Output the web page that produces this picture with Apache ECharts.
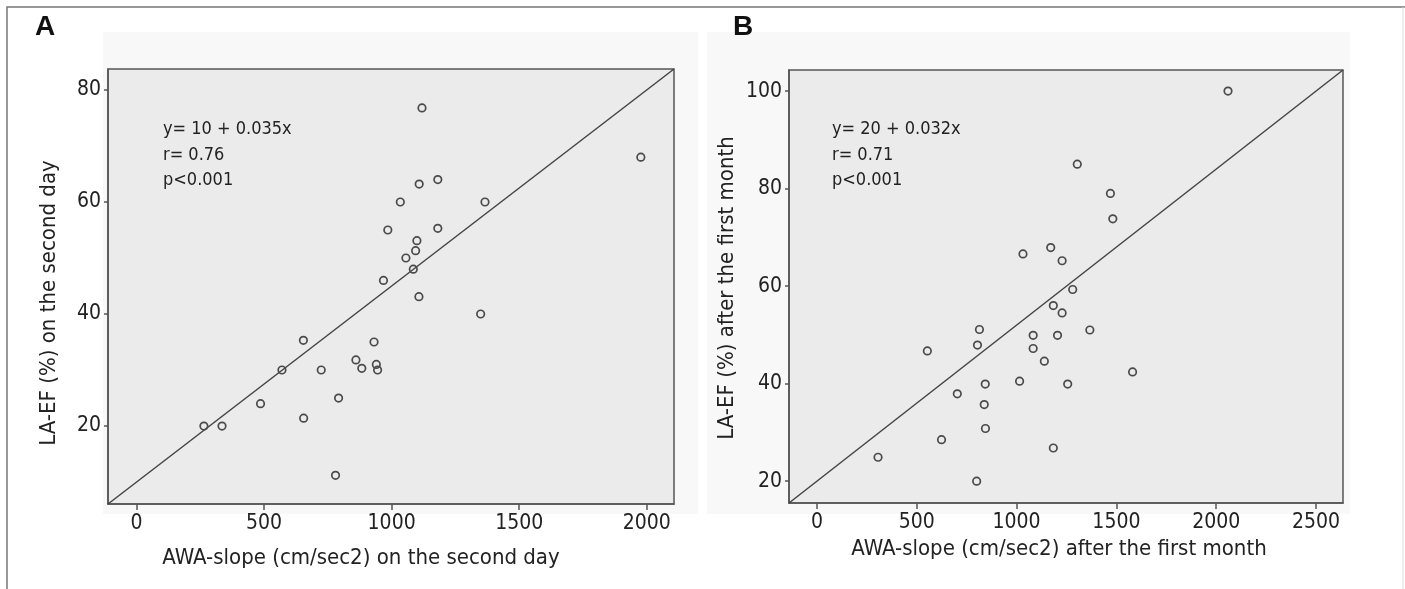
<!DOCTYPE html>
<html>
<head>
<meta charset="utf-8">
<style>
html, body { margin: 0; padding: 0; background: #fff; }
#main { width: 1405px; height: 589px; }
</style>
<script src="https://cdn.jsdelivr.net/npm/echarts@6/dist/echarts.min.js"></script>
</head>
<body>
<div id="main"></div>
<script>
// A: second day
var slopeA = [264, 335, 486, 570, 654, 655, 724, 792, 780, 860, 883, 931, 940, 945, 968,
              985, 1034, 1056, 1094, 1099, 1085, 1107, 1108, 1119, 1181, 1181, 1349, 1366, 1977];
var efA    = [20, 20, 24, 30, 35.3, 21.4, 30, 25, 11.2, 31.8, 30.3, 35, 31, 30, 46,
              55, 60, 50, 51.3, 53.1, 48, 43.1, 63.2, 76.8, 64, 55.3, 40, 60, 68];
var fitA   = [10, 0.035];
var statsA = ['y= 10 + 0.035x', 'r= 0.76', 'p<0.001'];
var xRangeA = [-112, 2107];
var xTicksA = [0, 500, 1000, 1500, 2000];
var yTicksA = [20, 40, 60, 80];

// B: after the first month
var slopeB = [2059, 1304, 1470, 1482, 1171, 1032, 1228, 1281, 1184, 1228, 814, 1367, 1083, 1205, 804,
              1083, 553, 1139, 1581, 1015, 843, 1256, 703, 838, 844, 624, 1184, 306, 800];
var efB    = [100, 85, 79, 73.8, 67.9, 66.6, 65.2, 59.3, 56, 54.5, 51.1, 51, 49.9, 49.9, 47.9,
              47.2, 46.7, 44.6, 42.4, 40.5, 39.9, 39.9, 37.9, 35.7, 30.8, 28.5, 26.8, 24.9, 20];
var fitB   = [20, 0.032];
var statsB = ['y= 20 + 0.032x', 'r= 0.71', 'p<0.001'];
var xRangeB = [-140, 2635];
var xTicksB = [0, 500, 1000, 1500, 2000, 2500];
var yTicksB = [20, 40, 60, 80, 100];

var FONT = '"Liberation Sans Narrow", "DejaVu Sans Condensed", "Liberation Sans", Arial, sans-serif';
var INK = '#222';
var AXIS = '#555';

function fitY(fit, x) { return fit[0] + fit[1] * x; }
function plain(v) { return String(v); }

function xAxisOf(idx, range, ticks, name, gap, pad) {
    return {
        type: 'value', gridIndex: idx, min: range[0], max: range[1],
        name: name, nameLocation: 'middle', nameGap: gap,
        nameTextStyle: { fontFamily: FONT, fontSize: 22, color: INK, padding: pad },
        axisLine: { show: true, onZero: false, lineStyle: { color: AXIS, width: 1.5 } },
        axisTick: { show: true, length: 6, customValues: ticks, lineStyle: { color: AXIS, width: 1.5 } },
        axisLabel: { customValues: ticks, formatter: plain, margin: 9, fontFamily: FONT, fontSize: 21, color: INK },
        splitLine: { show: false }
    };
}

function yAxisOf(idx, fit, range, ticks, name, gap, pad) {
    return {
        type: 'value', gridIndex: idx,
        min: fitY(fit, range[0]), max: fitY(fit, range[1]),
        name: name, nameLocation: 'middle', nameGap: gap,
        nameTextStyle: { fontFamily: FONT, fontSize: 22, color: INK, padding: pad },
        axisLine: { show: true, onZero: false, lineStyle: { color: AXIS, width: 1.5 } },
        axisTick: { show: true, length: 4, customValues: ticks, lineStyle: { color: AXIS, width: 1.5 } },
        axisLabel: { customValues: ticks, formatter: plain, margin: 7, fontFamily: FONT, fontSize: 21, color: INK },
        splitLine: { show: false }
    };
}

function pointsOf(xs, ys) {
    return xs.map(function (v, i) { return [v, ys[i]]; });
}

function scatterOf(idx, xs, ys) {
    return {
        type: 'scatter', xAxisIndex: idx, yAxisIndex: idx, silent: true, z: 3,
        data: pointsOf(xs, ys), symbol: 'circle', symbolSize: 7.5,
        itemStyle: { color: 'rgba(0,0,0,0)', borderColor: '#4a4a4a', borderWidth: 1.7, opacity: 1 }
    };
}

function fitLineOf(idx, fit, range) {
    return {
        type: 'line', xAxisIndex: idx, yAxisIndex: idx, silent: true, z: 2,
        symbol: 'none', animation: false,
        data: [[range[0], fitY(fit, range[0])], [range[1], fitY(fit, range[1])]],
        lineStyle: { color: '#444', width: 1.5 }
    };
}

function statsText(lines, x) {
    return {
        type: 'text', x: x, y: 117, z: 10,
        style: { text: lines.join('\n'), font: '18px ' + FONT, fill: INK, lineHeight: 25.5, verticalAlign: 'top' }
    };
}

var chart = echarts.init(document.getElementById('main'));
chart.setOption({
    backgroundColor: '#fff',
    animation: false,
    grid: [
        { left: 108, top: 69, width: 566, height: 435, show: true, backgroundColor: '#ebebeb', borderColor: AXIS, borderWidth: 1.5 },
        { left: 789, top: 70, width: 554, height: 433, show: true, backgroundColor: '#ebebeb', borderColor: AXIS, borderWidth: 1.5 }
    ],
    xAxis: [
        xAxisOf(0, xRangeA, xTicksA, 'AWA-slope (cm/sec2) on the second day', 43, [0, 60, 0, 0]),
        xAxisOf(1, xRangeB, xTicksB, 'AWA-slope (cm/sec2) after the first month', 35, [0, 14, 0, 0])
    ],
    yAxis: [
        yAxisOf(0, fitA, xRangeA, yTicksA, 'LA-EF (%) on the second day', 48, [0, 33, 0, 0]),
        yAxisOf(1, fitB, xRangeB, yTicksB, 'LA-EF (%) after the first month', 51, [0, 3, 0, 0])
    ],
    series: [
        fitLineOf(0, fitA, xRangeA),
        scatterOf(0, slopeA, efA),
        fitLineOf(1, fitB, xRangeB),
        scatterOf(1, slopeB, efB)
    ],
    graphic: [
        { type: 'rect', z: -1, shape: { x: 103, y: 32, width: 595, height: 482 }, style: { fill: '#f8f8f8' } },
        { type: 'rect', z: -1, shape: { x: 707, y: 32, width: 643, height: 482 }, style: { fill: '#f8f8f8' } },
        { type: 'polyline', shape: { points: [[7, 589], [7, 7], [1405, 7]] }, style: { stroke: '#777', lineWidth: 1.5, fill: null } },
        { type: 'line', shape: { x1: 1403, y1: 7, x2: 1403, y2: 589 }, style: { stroke: '#ddd', lineWidth: 1 } },
        { type: 'text', x: 35, y: 27, style: { text: 'A', font: 'bold 28px "Liberation Sans", Arial, sans-serif', fill: '#111', verticalAlign: 'middle' } },
        { type: 'text', x: 733, y: 27, style: { text: 'B', font: 'bold 28px "Liberation Sans", Arial, sans-serif', fill: '#111', verticalAlign: 'middle' } },
        statsText(statsA, 163),
        statsText(statsB, 832)
    ]
});
</script>
</body>
</html>
